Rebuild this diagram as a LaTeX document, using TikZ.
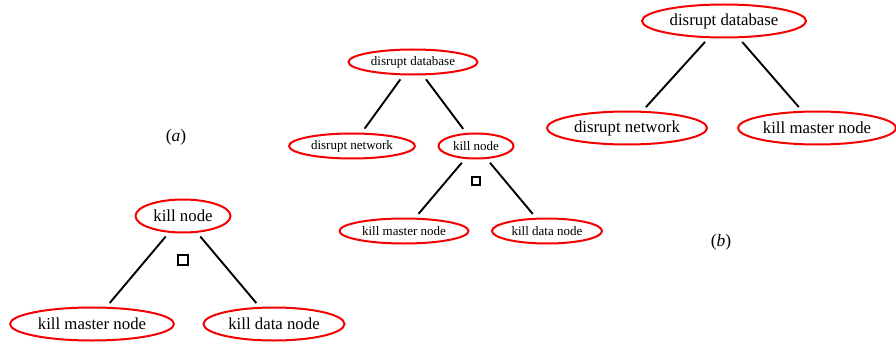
\documentclass[tikz,border=0pt]{standalone}
\usepackage{fontspec}
\setmainfont{Liberation Serif}
\usetikzlibrary{shapes.geometric}
\definecolor{edgered}{RGB}{245,0,0}
\tikzset{
  goal/.style={ellipse, draw=edgered, line width=2pt, inner sep=0pt,
    minimum width=#1, text=black},
  biggoal/.style={goal=#1, minimum height=33pt, font=\fontsize{16.8}{18}\selectfont},
  smallgoal/.style={goal=#1, minimum height=25pt, font=\fontsize{13}{14}\selectfont},
  link/.style={line width=1.9pt, shorten <=5pt, shorten >=5pt},
  andmark/.style={rectangle, draw, line width=2pt, inner sep=0pt, minimum size=#1},
  tag/.style={font=\fontsize{17.5}{19}\selectfont}
}
\begin{document}
\begin{tikzpicture}[x=1pt, y=-1pt]
  \useasboundingbox (0,0) rectangle (896,350);

  % tree (a), left part
  \node[biggoal=95pt]  (kn)  at (183,216) {kill node};
  \node[biggoal=164pt] (kmn) at (92,324)  {kill master node};
  \node[biggoal=141pt] (kdn) at (274,324) {kill data node};
  \node[andmark=10pt]  (and1) at (183,260) {};
  \draw[link] (kn) -- (kmn);
  \draw[link] (kn) -- (kdn);
  \node[tag] (la) at (176,137) {(\textit{a})};

  % combined tree, middle
  \node[smallgoal=129pt] (db)  at (413,62)  {disrupt database};
  \node[smallgoal=126pt] (dn)  at (352,146) {disrupt network};
  \node[smallgoal=75pt]  (kn2) at (476,146) {kill node};
  \node[smallgoal=129pt] (km2) at (404,231) {kill master node};
  \node[smallgoal=110pt] (kd2) at (547,231) {kill data node};
  \node[andmark=8pt]     (and2) at (476,181) {};
  \draw[link] (db) -- (dn);
  \draw[link] (db) -- (kn2);
  \draw[link] (kn2) -- (km2);
  \draw[link] (kn2) -- (kd2);

  % tree (b), right part
  \node[biggoal=164pt] (db3) at (724,21)  {disrupt database};
  \node[biggoal=160pt] (dn3) at (627,128) {disrupt network};
  \node[biggoal=158pt] (km3) at (817,128) {kill master node};
  \draw[link] (db3) -- (dn3);
  \draw[link] (db3) -- (km3);
  \node[tag] (lb) at (721,242) {(\textit{b})};
\end{tikzpicture}
\end{document}
